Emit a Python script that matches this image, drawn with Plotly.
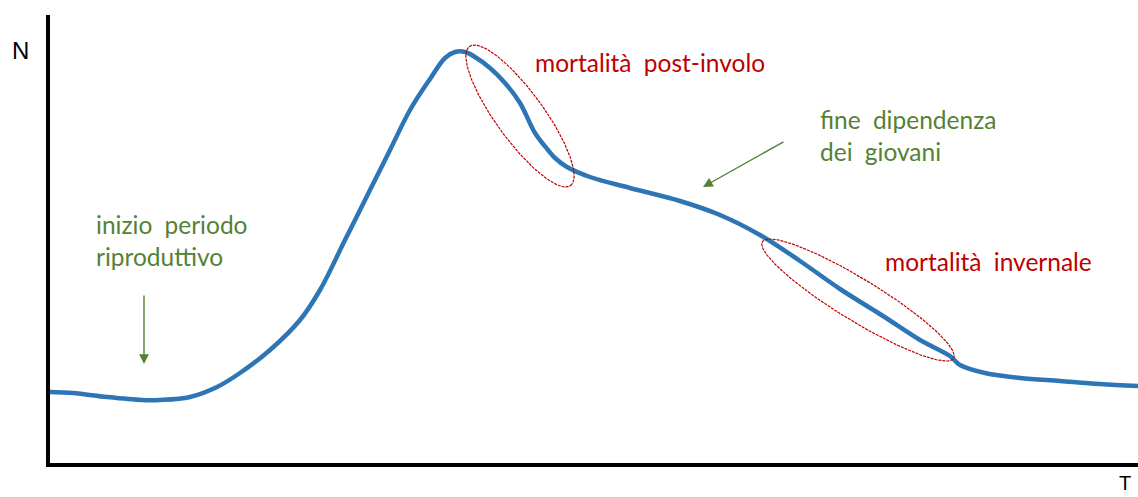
import numpy as np
import plotly.graph_objects as go

# Curve (time, population N) (units: px from axes origin)
t_vals = [0, 26, 60, 95, 113, 143, 170, 193, 223, 253, 273, 298, 323, 343, 363, 383,
          398, 408, 418, 428, 443, 458, 473, 488, 501, 508, 520, 543, 583, 633, 673,
          713, 753, 793, 836, 873, 903, 913, 938, 973, 1013, 1053, 1091]
n_vals = [73, 72, 68, 65, 65, 68, 78, 92, 115, 145, 175, 225, 275, 315, 355, 386,
          407, 413, 413, 408, 397, 382, 362, 332, 315, 307, 298, 288, 277, 264, 250,
          230, 204, 176, 149, 125, 109, 100, 92, 87, 84, 81, 79]

# Highlight ellipses: (center t, center N, semi-major, semi-minor, angle deg)
ellipses = [
    (473, 349, 86, 24, -54),
    (811, 165, 112, 21, -31.4),
]

labels_red = [("mortalità\u2002post-involo", 486, 403), ("mortalità\u2002invernale", 836, 204)]
labels_green = [("inizio\u2002periodo<br>riproduttivo", 47, 225),
                ("fine\u2002dipendenza<br>dei\u2002giovani", 771, 330)]
arrows = [((97, 171), (97, 101)), ((738, 324), (656, 278))]

RED = "#C00000"
GREEN = "#548235"
BLUE = "#2E75B6"

fig = go.Figure()
fig.add_trace(go.Scatter(x=t_vals, y=n_vals, mode="lines",
                         line=dict(color=BLUE, width=4.5, shape="spline", smoothing=1.0),
                         hoverinfo="skip", showlegend=False))

for cx, cy, a, b, ang in ellipses:
    th = np.linspace(0, 2 * np.pi, 200)
    r = np.deg2rad(ang)
    ex = cx + a * np.cos(th) * np.cos(r) - b * np.sin(th) * np.sin(r)
    ey = cy + a * np.cos(th) * np.sin(r) + b * np.sin(th) * np.cos(r)
    fig.add_trace(go.Scatter(x=ex, y=ey, mode="lines",
                             line=dict(color=RED, width=1.2, dash="3px,1px"),
                             hoverinfo="skip", showlegend=False))

font_txt = "Lato, 'Open Sans', sans-serif"
for txt, x, y in labels_red:
    fig.add_annotation(x=x, y=y, text=txt, showarrow=False, xanchor="left", yanchor="middle",
                       font=dict(family=font_txt, size=24.5, color=RED))
for txt, x, y in labels_green:
    fig.add_annotation(x=x, y=y, text=txt, showarrow=False, xanchor="left", yanchor="middle",
                       align="left", font=dict(family=font_txt, size=24.5, color=GREEN))
for (x0, y0), (x1, y1) in arrows:
    fig.add_annotation(x=x1, y=y1, ax=x0, ay=y0, xref="x", yref="y", axref="x", ayref="y",
                       text="", showarrow=True, arrowhead=2, arrowsize=1.4, arrowwidth=1.4,
                       arrowcolor=GREEN)

fig.add_annotation(text="N", xref="paper", yref="paper", x=-0.0267, y=0.92, showarrow=False,
                   xanchor="center", yanchor="middle",
                   font=dict(family="Liberation Sans, Arial", size=24, color="black"))
fig.add_annotation(text="T", xref="paper", yref="paper", x=0.988, y=-0.045, showarrow=False,
                   xanchor="center", yanchor="middle",
                   font=dict(family="Liberation Sans, Arial", size=20, color="black"))

fig.update_xaxes(range=[3, 1091], showgrid=False, zeroline=False, showticklabels=False,
                 showline=True, linecolor="black", linewidth=4, ticks="")
fig.update_yaxes(range=[2, 450], showgrid=False, zeroline=False, showticklabels=False,
                 showline=True, linecolor="black", linewidth=4, ticks="")
fig.update_layout(width=1138, height=497, margin=dict(l=50, r=0, t=15, b=34),
                  plot_bgcolor="white", paper_bgcolor="white")
fig.write_html(
    "out.html",
    config={"responsive": False, "displayModeBar": False},
    post_script=("document.body.style.margin='0';document.body.style.overflow='hidden';"
                 "Plotly.relayout('{plot_id}', {width:1138, height:497});"),
)
